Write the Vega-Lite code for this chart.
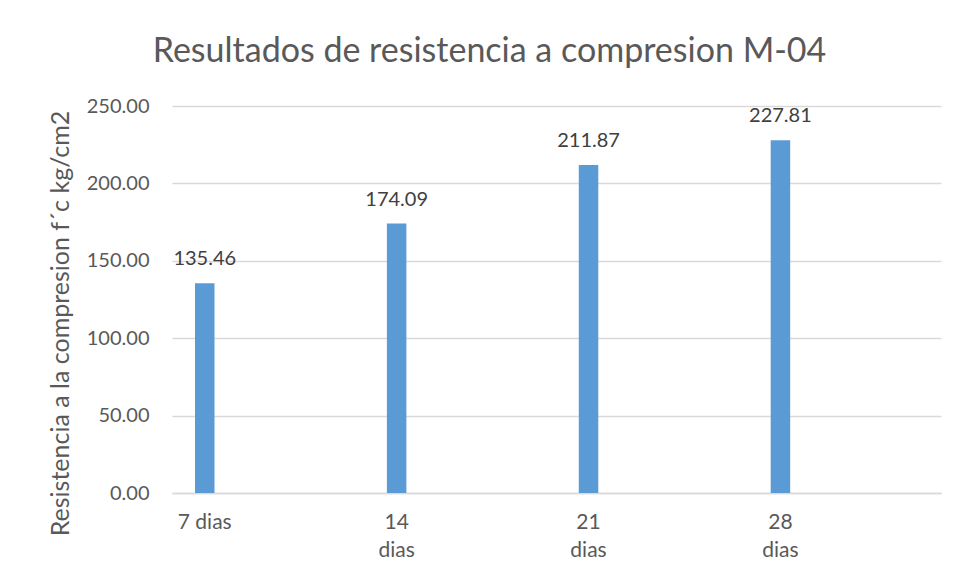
{
  "$schema": "https://vega.github.io/schema/vega-lite/v6.json",
  "autosize": "none",
  "width": 769,
  "height": 387,
  "padding": {"left": 172, "top": 106, "right": 19, "bottom": 87},
  "background": "white",
  "title": {
    "text": "Resultados de resistencia a compresion M-04",
    "font": "Lato",
    "fontSize": 34,
    "fontWeight": "normal",
    "color": "#595959",
    "anchor": "middle",
    "frame": "group",
    "baseline": "alphabetic",
    "dx": -67,
    "offset": 0
  },
  "data": {
    "values": [
      {"edad": "7 dias", "resistencia": 135.46},
      {"edad": "14 dias", "resistencia": 174.09},
      {"edad": "21 dias", "resistencia": 211.87},
      {"edad": "28 dias", "resistencia": 227.81}
    ]
  },
  "encoding": {
    "x": {
      "field": "edad",
      "type": "nominal",
      "sort": null,
      "scale": {"paddingInner": 0.8984, "paddingOuter": 0.4529, "align": 0.1323},
      "axis": {
        "title": null,
        "labelAngle": 0,
        "labelFont": "Lato",
        "labelFontSize": 21,
        "labelColor": "#595959",
        "labelPadding": 18,
        "labelLineHeight": 28,
        "labelBaseline": "top",
        "ticks": false,
        "tickSize": 0,
        "domainColor": "#D9D9D9",
        "domainWidth": 1.5,
        "grid": false,
        "labelExpr": "datum.value == '7 dias' ? datum.value : split(datum.value, ' ')"
      }
    },
    "y": {
      "field": "resistencia",
      "type": "quantitative",
      "scale": {"domain": [0, 250], "nice": false},
      "axis": {
        "title": "Resistencia a la compresion f´c kg/cm2",
        "titleFont": "Lato",
        "titleFontSize": 25,
        "titleFontWeight": "normal",
        "titleColor": "#595959",
        "titleX": -112,
        "titleY": 217,
        "titleBaseline": "middle",
        "values": [0, 50, 100, 150, 200, 250],
        "format": ".2f",
        "labelFont": "Lato",
        "labelFontSize": 20,
        "labelColor": "#595959",
        "labelPadding": 23,
        "ticks": false,
        "tickSize": 0,
        "domain": false,
        "grid": true,
        "gridColor": "#D9D9D9",
        "gridWidth": 1.5
      }
    }
  },
  "layer": [
    {"mark": {"type": "bar", "color": "#5B9BD5"}},
    {
      "mark": {
        "type": "text",
        "font": "Lato",
        "fontSize": 20,
        "color": "#404040",
        "baseline": "alphabetic",
        "dy": -18
      },
      "encoding": {
        "text": {"field": "resistencia", "type": "quantitative", "format": ".2f"}
      }
    }
  ],
  "config": {"view": {"stroke": null}}
}
